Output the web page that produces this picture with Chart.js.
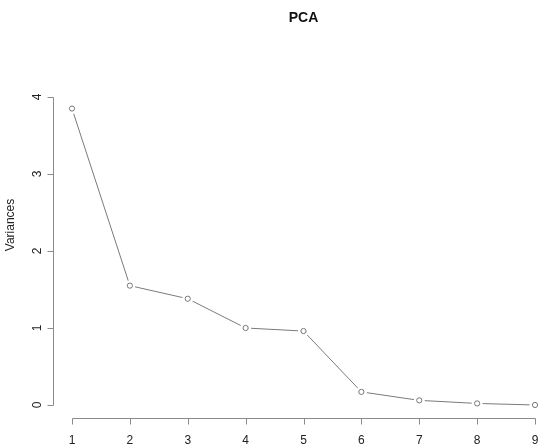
<!DOCTYPE html>
<html>
<head>
<meta charset="utf-8">
<script src="https://cdn.jsdelivr.net/npm/chart.js@4/dist/chart.umd.min.js"></script>
<style>
  html, body { margin: 0; padding: 0; background: #fff; overflow: hidden; }
  #wrap { width: 554px; height: 446px; }
</style>
</head>
<body>
<div id="wrap"><canvas id="scree" width="554" height="446"></canvas></div>
<script>
// screeplot of a PCA
const components = [1, 2, 3, 4, 5, 6, 7, 8, 9];
const variances = [3.85, 1.55, 1.38, 1.00, 0.96, 0.17, 0.06, 0.02, 0.00];
const yTicks = [0, 1, 2, 3, 4];
const xTicks = [1, 2, 3, 4, 5, 6, 7, 8, 9];

const FONT = '"Liberation Sans", Arial, Helvetica, sans-serif';
const points = components.map((c, i) => ({ x: c, y: variances[i] }));

// R-style axes: lines only span the tick range, y labels turned sideways
const rAxes = {
    id: 'rAxes',
    afterDraw(chart) {
        const ctx = chart.ctx;
        const xs = chart.scales.x, ys = chart.scales.y;
        const area = chart.chartArea;
        ctx.save();
        ctx.strokeStyle = '#8a8a8a';
        ctx.lineWidth = 1;
        ctx.fillStyle = '#222';
        ctx.font = '12px ' + FONT;

        // y axis
        const ax = Math.round(area.left) + 0.5;
        const yTop = ys.getPixelForValue(yTicks[yTicks.length - 1]);
        const yBot = ys.getPixelForValue(yTicks[0]);
        ctx.beginPath();
        ctx.moveTo(ax, Math.round(yTop) + 0.5);
        ctx.lineTo(ax, Math.round(yBot) + 0.5);
        yTicks.forEach(t => {
            const py = Math.round(ys.getPixelForValue(t)) + 0.5;
            ctx.moveTo(ax, py);
            ctx.lineTo(ax - 6, py);
        });
        ctx.stroke();
        yTicks.forEach(t => {
            const py = ys.getPixelForValue(t);
            ctx.save();
            ctx.translate(38, py);
            ctx.rotate(-Math.PI / 2);
            ctx.textAlign = 'center';
            ctx.textBaseline = 'middle';
            ctx.fillText(String(t), 0, 0);
            ctx.restore();
        });

        // x axis
        const ay = Math.round(area.bottom) + 0.5;
        const xL = xs.getPixelForValue(xTicks[0]);
        const xR = xs.getPixelForValue(xTicks[xTicks.length - 1]);
        ctx.beginPath();
        ctx.moveTo(Math.round(xL) + 0.5, ay);
        ctx.lineTo(Math.round(xR) + 0.5, ay);
        xTicks.forEach(t => {
            const px = Math.round(xs.getPixelForValue(t)) + 0.5;
            ctx.moveTo(px, ay);
            ctx.lineTo(px, ay + 6);
        });
        ctx.stroke();
        ctx.textAlign = 'center';
        ctx.textBaseline = 'middle';
        xTicks.forEach(t => {
            ctx.fillText(String(t), xs.getPixelForValue(t), 441);
        });

        // y title
        ctx.save();
        ctx.translate(11, 225);
        ctx.rotate(-Math.PI / 2);
        ctx.fillText('Variances', 0, 0);
        ctx.restore();

        // main title, centred over the plot region
        ctx.font = 'bold 14px ' + FONT;
        ctx.fillStyle = '#111';
        ctx.fillText('PCA', (area.left + area.right) / 2, 18);
        ctx.restore();
    }
};

new Chart(document.getElementById('scree'), {
    type: 'line',
    data: {
        datasets: [{
            // open circles, drawn on top
            data: points,
            showLine: false,
            order: 1,
            pointRadius: 2.6,
            pointBorderWidth: 1,
            pointBorderColor: '#777',
            pointBackgroundColor: 'rgba(255,255,255,0)',
            clip: false
        }, {
            // line with white discs to leave gaps round the points (type = "b")
            data: points,
            order: 2,
            borderColor: '#7a7a7a',
            borderWidth: 1,
            pointRadius: 5.5,
            pointBackgroundColor: '#fff',
            pointBorderWidth: 0,
            pointBorderColor: 'rgba(0,0,0,0)',
            tension: 0,
            clip: false
        }]
    },
    options: {
        responsive: false,
        devicePixelRatio: 1,
        animation: false,
        layout: { autoPadding: false, padding: { left: 53, right: 0, top: 97, bottom: 28 } },
        plugins: {
            legend: { display: false },
            tooltip: { enabled: false },
            title: { display: false }
        },
        scales: {
            x: { type: 'linear', display: false, min: 0.672, max: 9.328 },
            y: { type: 'linear', display: false, min: -0.169, max: 4.0 }
        }
    },
    plugins: [rAxes]
});
</script>
</body>
</html>
